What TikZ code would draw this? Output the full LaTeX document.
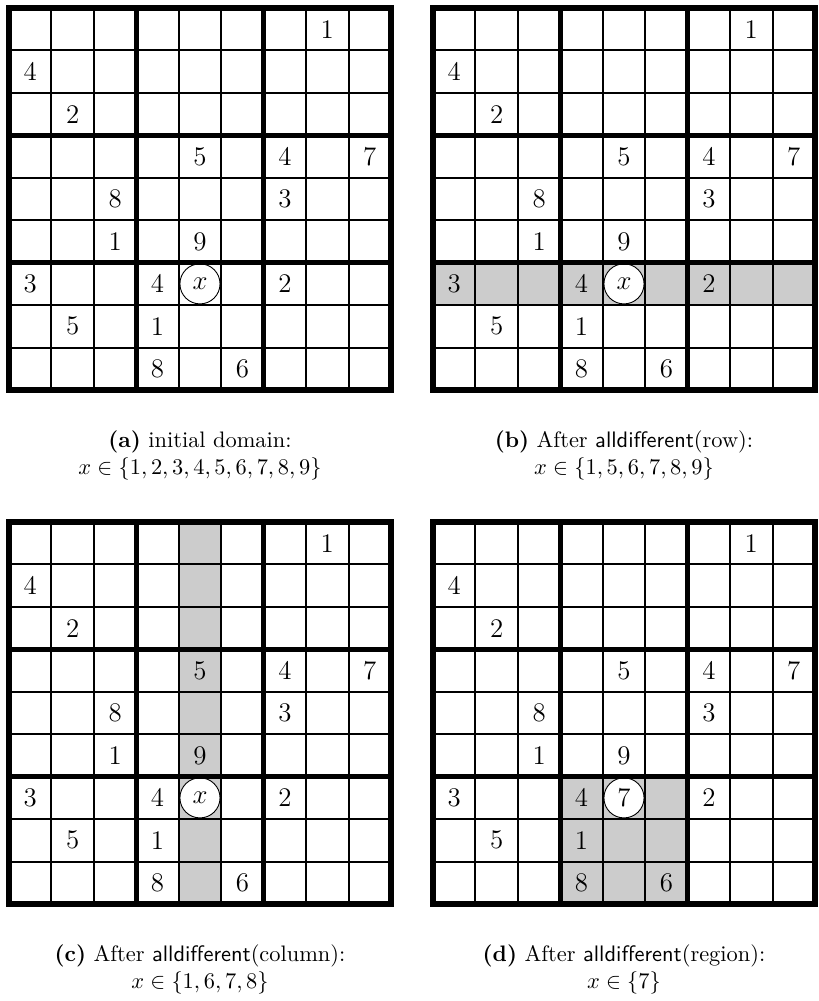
\documentclass[tikz,border=0pt]{standalone}
\usepackage{amsmath,amssymb}
\usetikzlibrary{positioning}

\begin{document}
\begin{tikzpicture}[
    x=0.4464pt, y=-0.4464pt,
    given/.style={font=\large, inner sep=0pt},
    varcell/.style={
        circle, draw, thin, fill=white,
        minimum size=17.9pt, inner sep=0pt,
        font=\large
    },
    shaded/.style={fill=black!20},
    thinline/.style={line width=0.9pt},
    thickline/.style={line width=2.5pt, line cap=rect},
    caption/.style={align=center, font=\normalsize, inner sep=0pt}
]
\useasboundingbox (0,0) rectangle (819,1001);

% Grid (a)
\begin{scope}[shift={(4.018pt,-3.571pt)}, x=18.945pt, y=-18.945pt]
  \foreach \r/\c/\v in {1/8/1, 2/1/4, 3/2/2, 4/5/5, 4/7/4, 4/9/7, 5/3/8, 5/7/3,
                        6/3/1, 6/5/9, 7/1/3, 7/4/4, 7/7/2, 8/2/5, 8/4/1, 9/4/8, 9/6/6}
    \node[given] (a-\r-\c) at (\c-0.5,\r-0.5) {\v};
  \node[varcell] (a-x) at (4.5,6.5) {$x$};
  \foreach \k in {1,...,8} {
    \draw[thinline] (\k,0) -- (\k,9);
    \draw[thinline] (0,\k) -- (9,\k);
  }
  \foreach \k in {0,3,6,9} {
    \draw[thickline] (\k,0) -- (\k,9);
    \draw[thickline] (0,\k) -- (9,\k);
  }
  \coordinate (a-s) at (4.5,9);
\end{scope}

% Grid (b)
\begin{scope}[shift={(193.29pt,-3.571pt)}, x=18.945pt, y=-18.945pt]
  \fill[shaded] (0,6) rectangle (9,7);
  \foreach \r/\c/\v in {1/8/1, 2/1/4, 3/2/2, 4/5/5, 4/7/4, 4/9/7, 5/3/8, 5/7/3,
                        6/3/1, 6/5/9, 7/1/3, 7/4/4, 7/7/2, 8/2/5, 8/4/1, 9/4/8, 9/6/6}
    \node[given] (b-\r-\c) at (\c-0.5,\r-0.5) {\v};
  \node[varcell] (b-x) at (4.5,6.5) {$x$};
  \foreach \k in {1,...,8} {
    \draw[thinline] (\k,0) -- (\k,9);
    \draw[thinline] (0,\k) -- (9,\k);
  }
  \foreach \k in {0,3,6,9} {
    \draw[thickline] (\k,0) -- (\k,9);
    \draw[thickline] (0,\k) -- (9,\k);
  }
  \coordinate (b-s) at (4.5,9);
\end{scope}

% Grid (c)
\begin{scope}[shift={(4.018pt,-233.02pt)}, x=18.945pt, y=-18.945pt]
  \fill[shaded] (4,0) rectangle (5,9);
  \foreach \r/\c/\v in {1/8/1, 2/1/4, 3/2/2, 4/5/5, 4/7/4, 4/9/7, 5/3/8, 5/7/3,
                        6/3/1, 6/5/9, 7/1/3, 7/4/4, 7/7/2, 8/2/5, 8/4/1, 9/4/8, 9/6/6}
    \node[given] (c-\r-\c) at (\c-0.5,\r-0.5) {\v};
  \node[varcell] (c-x) at (4.5,6.5) {$x$};
  \foreach \k in {1,...,8} {
    \draw[thinline] (\k,0) -- (\k,9);
    \draw[thinline] (0,\k) -- (9,\k);
  }
  \foreach \k in {0,3,6,9} {
    \draw[thickline] (\k,0) -- (\k,9);
    \draw[thickline] (0,\k) -- (9,\k);
  }
  \coordinate (c-s) at (4.5,9);
\end{scope}

% Grid (d)
\begin{scope}[shift={(193.29pt,-233.02pt)}, x=18.945pt, y=-18.945pt]
  \fill[shaded] (3,6) rectangle (6,9);
  \foreach \r/\c/\v in {1/8/1, 2/1/4, 3/2/2, 4/5/5, 4/7/4, 4/9/7, 5/3/8, 5/7/3,
                        6/3/1, 6/5/9, 7/1/3, 7/4/4, 7/7/2, 8/2/5, 8/4/1, 9/4/8, 9/6/6}
    \node[given] (d-\r-\c) at (\c-0.5,\r-0.5) {\v};
  \node[varcell] (d-x) at (4.5,6.5) {7};
  \foreach \k in {1,...,8} {
    \draw[thinline] (\k,0) -- (\k,9);
    \draw[thinline] (0,\k) -- (9,\k);
  }
  \foreach \k in {0,3,6,9} {
    \draw[thickline] (\k,0) -- (\k,9);
    \draw[thickline] (0,\k) -- (9,\k);
  }
  \coordinate (d-s) at (4.5,9);
\end{scope}

% Captions
\node[caption, below=18pt of a-s] (a-cap) {%
\textbf{(a)} initial domain:\\
$x \in \{1,2,3,4,5,6,7,8,9\}$
};
\node[caption, below=18pt of b-s] (b-cap) {%
\textbf{(b)} After \textsf{alldifferent}(row):\\
$x \in \{1,5,6,7,8,9\}$
};
\node[caption, below=18pt of c-s] (c-cap) {%
\textbf{(c)} After \textsf{alldifferent}(column):\\
$x \in \{1,6,7,8\}$
};
\node[caption, below=18pt of d-s] (d-cap) {%
\textbf{(d)} After \textsf{alldifferent}(region):\\
$x \in \{7\}$
};

\end{tikzpicture}
\end{document}
